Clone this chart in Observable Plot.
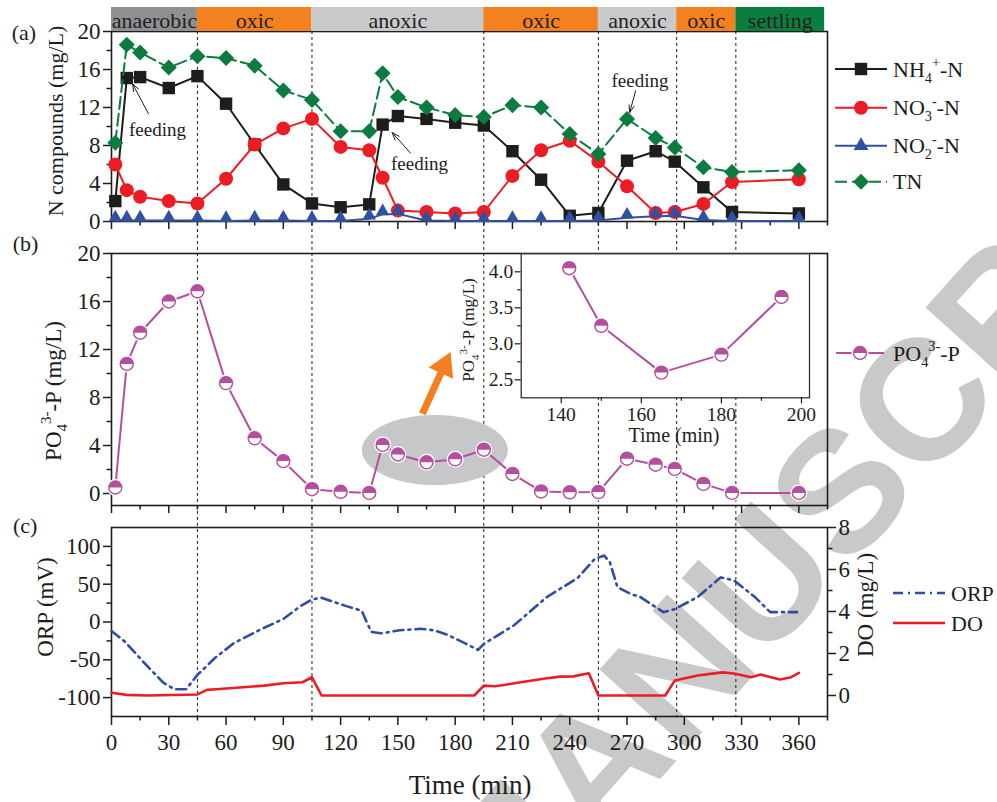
<!DOCTYPE html>
<html><head><meta charset="utf-8">
<script src="https://cdn.jsdelivr.net/npm/d3@7"></script>
<script src="https://cdn.jsdelivr.net/npm/@observablehq/plot@0.6"></script>
<style>
body{margin:0;background:#fff;}
#root{position:relative;width:997px;height:802px;overflow:hidden;}
</style></head><body><div id="root"></div>
<script>
// ---------- data ----------
const timeN = [2, 8, 15, 30, 45, 60, 75, 90, 105, 120, 135, 142, 150, 165, 180, 195, 210, 225, 240, 255, 270, 285, 295, 310, 325, 360];
const nh4 = [2.15, 15.1, 15.2, 14.05, 15.3, 12.4, 8.1, 3.9, 1.9, 1.5, 1.8, 10.2, 11.1, 10.8, 10.4, 10.1, 7.4, 4.4, 0.6, 0.9, 6.4, 7.4, 6.3, 3.6, 1.0, 0.85];
const no3 = [6.0, 3.3, 2.6, 2.15, 1.9, 4.5, 8.1, 9.8, 10.8, 7.85, 7.5, 4.6, 1.15, 1.0, 0.85, 1.0, 4.8, 7.5, 8.5, 6.3, 3.7, 0.9, 1.0, 1.85, 4.15, 4.45];
const no2 = [0.1, 0.1, 0.1, 0.1, 0.1, 0.05, 0.1, 0.1, 0.05, 0.05, 0.3, 0.75, 0.8, 0.1, 0.05, 0.05, 0.05, 0.05, 0.05, 0.1, 0.4, 0.55, 0.6, 0.15, 0.05, 0.05];
const tn = [8.3, 18.6, 17.8, 16.2, 17.4, 17.2, 16.4, 13.8, 12.8, 9.5, 9.5, 15.6, 13.1, 12.0, 11.2, 11.0, 12.25, 12.0, 9.2, 7.1, 10.8, 8.8, 7.8, 5.7, 5.2, 5.4];
const po4 = [0.5, 10.8, 13.4, 16.0, 16.85, 9.2, 4.6, 2.7, 0.36, 0.14, 0.05, 4.05, 3.25, 2.6, 2.85, 3.65, 1.63, 0.17, 0.1, 0.12, 2.9, 2.4, 2.05, 0.8, 0.05, 0.05];

const orpTime = [0, 7, 19, 27, 33, 39, 45, 54, 64, 78, 90, 99, 105, 110, 123, 131, 136, 141, 151, 162, 169, 176, 185, 192, 195, 211, 228, 244, 253, 258, 261, 265, 272, 277, 289, 295, 307, 319, 326, 337, 345, 359];
const orp = [-12, -26, -59, -80, -89, -89, -70, -48, -28, -10, 4, 21, 30, 32, 21, 15, -13, -15, -11, -9, -11, -17, -28, -37, -29, -4, 33, 58, 83, 88, 79, 46, 37, 33, 13, 17, 33, 59, 55, 33, 13, 13];
const doTime = [0, 8, 19, 45, 50, 55, 80, 90, 100, 105, 110, 190, 195, 201, 211, 228, 235, 242, 250, 255, 290, 295, 307, 320, 326, 335, 340, 350, 356, 360];
const doVal = [0.13, 0.03, 0, 0.05, 0.27, 0.3, 0.47, 0.58, 0.63, 0.87, 0, 0, 0.47, 0.44, 0.58, 0.82, 0.9, 0.91, 1.06, 0, 0, 0.71, 0.95, 1.1, 1.05, 0.87, 1.0, 0.76, 0.87, 1.08];

const phaseNames = ["anaerobic", "oxic", "anoxic", "oxic", "anoxic", "oxic", "settling"];
const phaseStart = [0, 45, 105, 195, 255, 296, 327];
const phaseEnd = [45, 105, 195, 255, 296, 327, 373.5];
const phaseColor = ["#8f9093", "#f4811f", "#c8c9cb", "#f4811f", "#c8c9cb", "#f4811f", "#0a7e3f"];

const xTicks = [0, 30, 60, 90, 120, 150, 180, 210, 240, 270, 300, 330, 360];
const xMinor = [15, 45, 75, 105, 135, 165, 195, 225, 255, 285, 315, 345, 375];
const nTicks = [0, 4, 8, 12, 16, 20];
const nMinor = [2, 6, 10, 14, 18];
const orpTicks = [-100, -50, 0, 50, 100];
const orpMinor = [-75, -25, 25, 75];
const doTicks = [0, 2, 4, 6, 8];
const doMinor = [1, 3, 5, 7];
const insetXTicks = [140, 160, 180, 200];
const insetXMinor = [150, 170, 190];
const insetYTicks = [2.5, 3.0, 3.5, 4.0];
const insetYMinor = [2.75, 3.25, 3.75];

// annotations
const feedLabel = ["feeding", "feeding", "feeding"];
const feedTx = [24.1, 161.3, 276.8], feedTy = [9.64, 6.05, 14.8];
const feedT1 = [19.4, 156.6, 274.5], feedV1 = [11.33, 7.2, 13.76];
const feedT2 = [11.0, 147.0, 271.4], feedV2 = [14.5, 9.36, 11.47];
const ellipse = {cx: 169.6, cy: 3.58, rx: 38.2, ry: 2.92};
const bigArrow = {t1: 162.8, v1: 6.64, t2: 174.2, v2: 10.62};

// ---------- style ----------
const FONT = '"Liberation Serif","Times New Roman",Times,serif';
const BLACK = "#1d1d1b", RED = "#ec1c24", BLUE = "#3050a0", GREEN = "#0b7b3e",
      PURPLE = "#b44fa0", ORANGE = "#f47f20", ORPBLUE = "#2f4ea3";
const xDomain = [0, 375];
const ML = 111, MR = 170, W = 997;
const root = document.getElementById("root");
function place(node, left, top) {
  node.style.position = "absolute"; node.style.left = left + "px"; node.style.top = top + "px";
  root.appendChild(node); return node;
}
const base = fs => ({background: "transparent", fontFamily: FONT, fontSize: fs + "px", color: BLACK, overflow: "visible"});
const none = () => "";

// ---------- watermark ----------
const wm = d3.create("svg").attr("width", W).attr("height", 802);
wm.append("text").attr("transform", "translate(1268,104) rotate(-48)").attr("text-anchor", "end")
  .attr("font-family", '"Liberation Sans",Arial,sans-serif').attr("font-weight", "bold")
  .attr("font-size", 172).attr("fill", "#c9c9c9").text("ACCEPTED MANUSCRIPT");
place(wm.node(), 0, 0);

// ---------- dashed phase boundaries ----------
const boundaries = phaseStart.slice(1);
place(Plot.plot({
  width: W, height: 720, marginLeft: ML, marginRight: MR, marginTop: 31, marginBottom: 4,
  x: {domain: xDomain, axis: null}, style: base(22),
  marks: [Plot.ruleX(boundaries, {stroke: BLACK, strokeWidth: 1, strokeDasharray: "3,3"})]
}), 0, 0);

// ---------- panel (a) ----------
const rowsN = timeN.map((t, i) => ({t, nh4: nh4[i], no3: no3[i], no2: no2[i], tn: tn[i]}));
const feedRows = feedLabel.map((s, i) => ({s, tx: feedTx[i], ty: feedTy[i], t1: feedT1[i], v1: feedV1[i], t2: feedT2[i], v2: feedV2[i]}));
place(Plot.plot({
  width: W, height: 231, marginLeft: ML, marginRight: MR, marginTop: 31, marginBottom: 10,
  x: {domain: xDomain}, y: {domain: [0, 20]}, style: base(23),
  marks: [
    Plot.axisY({ticks: nTicks, tickSize: 8, tickPadding: 3, strokeWidth: 1.5, label: null}),
    Plot.axisY({ticks: nMinor, tickSize: 4.5, strokeWidth: 1.5, tickFormat: none, label: null}),
    Plot.axisX({ticks: xTicks, tickSize: 8, strokeWidth: 1.5, tickFormat: none, label: null}),
    Plot.axisX({ticks: xMinor, tickSize: 4.5, strokeWidth: 1.5, tickFormat: none, label: null}),
    Plot.frame({stroke: BLACK, strokeWidth: 1.6}),
    Plot.arrow(feedRows, {x1: "t1", y1: "v1", x2: "t2", y2: "v2", stroke: BLACK, strokeWidth: 1, headLength: 12, headAngle: 40}),
    Plot.text(feedRows, {x: "tx", y: "ty", text: "s", fontSize: 19, fill: BLACK}),
    Plot.line(rowsN, {x: "t", y: "nh4", stroke: BLACK, strokeWidth: 2}),
    Plot.dot(rowsN, {x: "t", y: "nh4", symbol: "square", r: 7, fill: BLACK}),
    Plot.line(rowsN, {x: "t", y: "no3", stroke: RED, strokeWidth: 2}),
    Plot.dot(rowsN, {x: "t", y: "no3", symbol: "circle", r: 7, fill: RED}),
    Plot.line(rowsN, {x: "t", y: "no2", stroke: BLUE, strokeWidth: 2}),
    Plot.dot(rowsN, {x: "t", y: "no2", symbol: "triangle", r: 5, fill: BLUE, dy: -3}),
    Plot.line(rowsN, {x: "t", y: "tn", stroke: GREEN, strokeWidth: 2, strokeDasharray: "12,5"}),
    Plot.dot(rowsN, {x: "t", y: "tn", symbol: "square", r: 6.4, rotate: 45, fill: GREEN})
  ]
}), 0, 0);

// ---------- panel (b) ----------
const halfTop = {draw(ctx, size) { const r = Math.sqrt(size / Math.PI); ctx.moveTo(r, 0); ctx.arc(0, 0, r, 0, Math.PI, true); ctx.closePath(); }};
const rowsP = timeN.map((t, i) => ({t, p: po4[i]}));
const ellRows = d3.range(0, 201).map(i => {
  const a = Math.PI * i / 200, h = ellipse.ry * Math.sin(a);
  return {t: ellipse.cx - ellipse.rx * Math.cos(a), lo: ellipse.cy - h, hi: ellipse.cy + h};
});
const poMarks = (rows, r) => [
  Plot.line(rows, {x: "t", y: "p", stroke: PURPLE, strokeWidth: 2}),
  Plot.dot(rows, {x: "t", y: "p", r: r + 2, fill: "white"}),
  Plot.dot(rows, {x: "t", y: "p", r: r, fill: "white", stroke: PURPLE, strokeWidth: 1.4}),
  Plot.dot(rows, {x: "t", y: "p", r: r, symbol: halfTop, fill: PURPLE})
];
place(Plot.plot({
  width: W, height: 275, marginLeft: ML, marginRight: MR, marginTop: 13, marginBottom: 10,
  x: {domain: xDomain}, y: {domain: [-1, 20]}, style: base(23),
  marks: [
    Plot.areaY(ellRows, {x: "t", y1: "lo", y2: "hi", fill: "#c6c7c9"}),
    Plot.link([bigArrow], {x1: "t1", y1: "v1", x2: "t2", y2: "v2", stroke: ORANGE, strokeWidth: 7}),
    Plot.dot([bigArrow], {x: "t2", y: "v2", symbol: "triangle", r: 10, rotate: 24.6, fill: ORANGE}),
    Plot.axisY({ticks: nTicks, tickSize: 8, tickPadding: 3, strokeWidth: 1.5, label: null}),
    Plot.axisY({ticks: nMinor, tickSize: 4.5, strokeWidth: 1.5, tickFormat: none, label: null}),
    Plot.axisX({ticks: xTicks, tickSize: 8, strokeWidth: 1.5, tickFormat: none, label: null}),
    Plot.axisX({ticks: xMinor, tickSize: 4.5, strokeWidth: 1.5, tickFormat: none, label: null}),
    Plot.frame({stroke: BLACK, strokeWidth: 1.6}),
    ...poMarks(rowsP, 6.5)
  ]
}), 0, 240);

// ---------- panel (c) ----------
const orpRows = orpTime.map((t, i) => ({t, v: orp[i]}));
const doRows = doTime.map((t, i) => ({t, v: doVal[i]}));
place(Plot.plot({
  width: W, height: 287, marginLeft: ML, marginRight: MR, marginTop: 12, marginBottom: 86,
  x: {domain: xDomain}, y: {domain: [-125, 125]}, style: base(23),
  marks: [
    Plot.axisY({ticks: orpTicks, tickSize: 8, tickPadding: 3, strokeWidth: 1.5, tickFormat: d => String(d), label: null}),
    Plot.axisY({ticks: orpMinor, tickSize: 4.5, strokeWidth: 1.5, tickFormat: none, label: null}),
    Plot.axisX({ticks: xTicks, tickSize: 9, tickPadding: 8, strokeWidth: 1.5, tickFormat: d => String(d), label: null}),
    Plot.axisX({ticks: xMinor, tickSize: 4.5, strokeWidth: 1.5, tickFormat: none, label: null}),
    Plot.frame({stroke: BLACK, strokeWidth: 1.6}),
    Plot.line(orpRows, {x: "t", y: "v", stroke: ORPBLUE, strokeWidth: 2.6, strokeDasharray: "10,5,2,5"})
  ]
}), 0, 515);
place(Plot.plot({
  width: W, height: 287, marginLeft: ML, marginRight: MR, marginTop: 12, marginBottom: 86,
  x: {domain: xDomain, axis: null}, y: {domain: [-1, 8]}, style: base(23),
  marks: [
    Plot.axisY({anchor: "right", ticks: doTicks, tickSize: 8, tickPadding: 3, strokeWidth: 1.5, label: null}),
    Plot.axisY({anchor: "right", ticks: doMinor, tickSize: 4.5, strokeWidth: 1.5, tickFormat: none, label: null}),
    Plot.line(doRows, {x: "t", y: "v", stroke: RED, strokeWidth: 2.6})
  ]
}), 0, 515);

// ---------- inset ----------
const rowsInset = rowsP.filter(d => d.t >= 140 && d.t <= 196);
place(Plot.plot({
  width: 379, height: 220, marginLeft: 80.7, marginRight: 10, marginTop: 13.3, marginBottom: 62.7,
  x: {domain: [130, 202]}, y: {domain: [2.25, 4.25]}, style: base(19.5),
  marks: [
    Plot.frame({fill: "white", stroke: "#333", strokeWidth: 1.3}),
    Plot.axisY({ticks: insetYTicks, tickSize: 6, tickPadding: 2, strokeWidth: 1.2, tickFormat: d => d.toFixed(1), label: null}),
    Plot.axisY({ticks: insetYMinor, tickSize: 3.5, strokeWidth: 1.2, tickFormat: none, label: null}),
    Plot.axisX({ticks: insetXTicks, tickSize: 6, tickPadding: 3, strokeWidth: 1.2, tickFormat: d => String(d), label: null}),
    Plot.axisX({ticks: insetXMinor, tickSize: 3.5, strokeWidth: 1.2, tickFormat: none, label: null}),
    ...poMarks(rowsInset, 6.5)
  ]
}), 440, 240);

// ---------- phase bar ----------
const phaseRows = phaseNames.map((n, i) => ({name: n, start: phaseStart[i], end: phaseEnd[i], color: phaseColor[i]}));
place(Plot.plot({
  width: W, height: 31, marginLeft: ML, marginRight: MR, marginTop: 7, marginBottom: 0,
  x: {domain: xDomain, axis: null}, color: {type: "identity"}, style: base(22),
  marks: [
    Plot.barX(phaseRows, {x1: "start", x2: "end", fill: "color"}),
    Plot.text(phaseRows, {x: d => (d.start + d.end) / 2, text: "name", fill: "#231f20", fontSize: 22, dy: 1})
  ]
}), 0, 0);

// ---------- text overlay: labels & legends ----------
const ov = d3.create("svg").attr("width", W).attr("height", 802)
  .style("font-family", FONT).style("fill", BLACK);
function rich(parent, parts, fs) {
  const t = parent.append("text").attr("font-size", fs);
  let cur = 0;
  for (const [s, kind] of parts) {
    const target = kind === "sub" ? 0.28 * fs : kind === "sup" ? -0.42 * fs : 0;
    const ts = t.append("tspan").attr("dy", target - cur).text(s);
    if (kind) ts.attr("font-size", fs * 0.65);
    cur = target;
  }
  return t;
}
function label(x, y, parts, fs, rot, anchor) {
  const g = ov.append("g").attr("transform", `translate(${x},${y})` + (rot ? ` rotate(${rot})` : ""));
  rich(g, parts, fs).attr("text-anchor", anchor || "middle");
}
label(11.7, 39.5, [["(a)"]], 22, 0, "start");
label(12.7, 251, [["(b)"]], 22, 0, "start");
label(13, 533, [["(c)"]], 22, 0, "start");
label(63, 121, [["N compounds (mg/L)"]], 22, -90);
label(61, 391, [["PO"], ["4", "sub"], ["3-", "sup"], ["-P (mg/L)"]], 23, -90);
label(53, 607, [["ORP (mV)"]], 23, -90);
label(873, 605, [["DO (mg/L)"]], 23, -90);
label(470, 794, [["Time (min)"]], 27, 0);
label(474, 330, [["PO"], ["4", "sub"], ["3-", "sup"], ["-P (mg/L)"]], 17, -90);
label(674, 442, [["Time (min)"]], 20, 0);

function legend(y, x1, x2, color, dash, width, sym, r, rot, parts, xt, half) {
  const xm = (x1 + x2) / 2;
  ov.append("line").attr("x1", x1).attr("x2", x2).attr("y1", y).attr("y2", y)
    .attr("stroke", color).attr("stroke-width", width).attr("stroke-dasharray", dash || null);
  if (sym) {
    const path = d3.symbol(sym, Math.PI * r * r)();
    if (half) {
      ov.append("circle").attr("cx", xm).attr("cy", y).attr("r", r + 2).attr("fill", "white");
      ov.append("circle").attr("cx", xm).attr("cy", y).attr("r", r).attr("fill", "white").attr("stroke", color).attr("stroke-width", 1.4);
    }
    ov.append("path").attr("d", path).attr("fill", color)
      .attr("transform", `translate(${xm},${y})` + (rot ? ` rotate(${rot})` : ""));
  }
  rich(ov.append("g").attr("transform", `translate(${xt},${y + 7.5})`), parts, 22);
}
legend(69, 835, 887, BLACK, null, 2, d3.symbolSquare, 7, 0, [["NH"], ["4", "sub"], ["+", "sup"], ["-N"]], 893);
legend(107.7, 835, 887, RED, null, 2, d3.symbolCircle, 7, 0, [["NO"], ["3", "sub"], ["-", "sup"], ["-N"]], 893);
legend(145.7, 835, 887, BLUE, null, 2, d3.symbolTriangle, 5.5, 0, [["NO"], ["2", "sub"], ["-", "sup"], ["-N"]], 893);
legend(181.7, 835, 887, GREEN, "12,5", 2, d3.symbolSquare, 6.4, 45, [["TN"]], 893);
legend(353, 836, 884, PURPLE, null, 2, halfTop, 6.5, 0, [["PO"], ["4", "sub"], ["3-", "sup"], ["-P"]], 893, true);
legend(593, 893, 945, ORPBLUE, "10,5,2,5", 2.6, null, 0, 0, [["ORP"]], 951);
legend(623, 893, 945, RED, null, 2.6, null, 0, 0, [["DO"]], 951);
place(ov.node(), 0, 0);
</script></body></html>
